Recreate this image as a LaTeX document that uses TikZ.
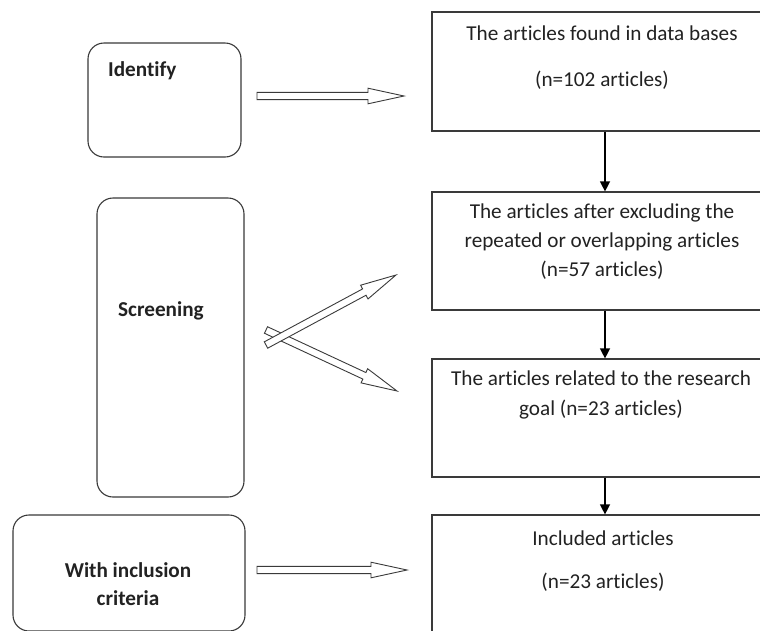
\documentclass[tikz,border=0pt]{standalone}
\usepackage{fontspec}
\setmainfont{Carlito}[Ligatures=CommonOff]
\usetikzlibrary{calc,arrows.meta}
\definecolor{ln}{HTML}{3A3A3A}
\definecolor{tx}{HTML}{222222}
\newcommand\blkarrow[2]{%
  \coordinate (#1-#2-h) at ($(#2)!36pt!(#1)$);
  \draw[blk] ($(#1)!3.6pt!90:(#2)$) -- ($(#1-#2-h)!3.6pt!90:(#2)$)
    -- ($(#1-#2-h)!7.8pt!90:(#2)$) -- (#2)
    -- ($(#1-#2-h)!7.8pt!-90:(#2)$) -- ($(#1-#2-h)!3.6pt!-90:(#2)$)
    -- ($(#1)!3.6pt!-90:(#2)$) -- cycle;}
\begin{document}
\begin{tikzpicture}[x=1pt,y=-1pt,
  box/.style={draw=ln,line width=1.2pt,rectangle,inner sep=0pt},
  rbox/.style={draw=ln,line width=1.1pt,rectangle,rounded corners=16pt,inner sep=0pt},
  txt/.style={text=tx,font=\fontsize{21.2}{29}\selectfont,inner sep=0pt,align=center},
  btxt/.style={text=tx,font=\fontsize{21.2}{28}\selectfont\bfseries,inner sep=0pt,align=center},
  arr/.style={draw=black,line width=1.3pt,-{Triangle[length=10pt,width=10pt]}},
  blk/.style={draw=ln,line width=0.9pt,fill=white,line join=miter}]
\useasboundingbox (0,0) rectangle (760,630);
\clip (0,0) rectangle (760,630);
\fill[white] (0,0) rectangle (760,630);
% right boxes
\node[box,minimum width=346pt,minimum height=119pt] (b1) at (605,71.5) {};
\node[box,minimum width=346pt,minimum height=118pt] (b2) at (605,251) {};
\node[box,minimum width=346pt,minimum height=118pt] (b3) at (605,418) {};
\node[box,minimum width=346pt,minimum height=185pt] (b4) at (605,607.5) {};
% left boxes
\node[rbox,minimum width=153pt,minimum height=114pt] (l1) at (164.5,100) {};
\node[rbox,minimum width=147pt,minimum height=299pt] (l2) at (170.5,347.5) {};
\node[rbox,minimum width=232pt,minimum height=116pt] (l3) at (129,573) {};
% texts
\node[txt] (t1a) at (602,33) {The articles found in data bases};
\node[txt] (t1b) at (602,80) {(n=102 articles)};
\node[txt] (t2) at (602,242) {The articles after excluding the\\repeated or overlapping articles\\(n=57 articles)};
\node[txt,font=\fontsize{21.2}{30}\selectfont] (t3) at (601,395) {The articles related to the research\\goal (n=23 articles)};
\node[txt] (t4a) at (603,538) {Included articles};
\node[txt] (t4b) at (603,582) {(n=23 articles)};
\node[btxt,anchor=west] (lt1) at (108,71) {Identify};
\node[btxt,anchor=west] (lt2) at (118,311) {Screening};
\node[btxt] (lt3) at (128,584) {With inclusion\\criteria};
% vertical connectors
\draw[arr] (b1.south) -- (b2.north);
\draw[arr] (b2.south) -- (b3.north);
\draw[arr] (b3.south) -- (b4.north);
% block arrows
\coordinate (a1s) at (257,96);
\coordinate (a1e) at (404,96);
\coordinate (a4s) at (257,570);
\coordinate (a4e) at (407,570);
\coordinate (a2s) at (266,330);
\coordinate (a2e) at (397,391);
\coordinate (a3s) at (266,345);
\coordinate (a3e) at (396,275);
\blkarrow{a1s}{a1e}
\blkarrow{a4s}{a4e}
\blkarrow{a2s}{a2e}
\blkarrow{a3s}{a3e}
\end{tikzpicture}
\end{document}
